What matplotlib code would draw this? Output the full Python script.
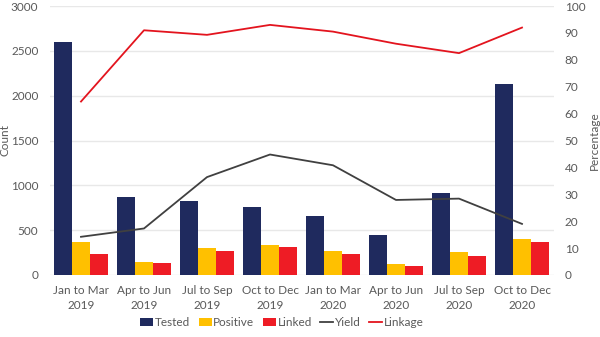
import matplotlib
matplotlib.use("Agg")
import matplotlib.pyplot as plt
import numpy as np

plt.rcParams["font.family"] = ["Lato", "DejaVu Sans"]

QUARTERS = [
    "Jan to Mar\n2019", "Apr to Jun\n2019", "Jul to Sep\n2019", "Oct to Dec\n2019",
    "Jan to Mar\n2020", "Apr to Jun\n2020", "Jul to Sep\n2020", "Oct to Dec\n2020",
]
TESTED = [2600, 870, 830, 755, 660, 450, 915, 2135]
POSITIVE = [370, 146, 298, 332, 265, 119, 258, 404]
LINKED = [235, 130, 269, 309, 239, 101, 208, 370]
YIELD = [14.2, 17.3, 36.4, 44.8, 40.8, 27.9, 28.4, 19.0]
LINKAGE = [64.5, 91.0, 89.3, 93.0, 90.5, 86.0, 82.5, 92.0]

TEXT_COLOR = "#595959"
GRID_COLOR = "#E8E8E8"
FS = 8.5

fig = plt.figure(figsize=(6, 3.37), dpi=100)
ax = fig.add_axes([0.0825, 0.184, 0.84, 0.798])
ax2 = ax.twinx()

x = np.arange(len(QUARTERS))
w = 0.286
ax.bar(x - w, TESTED, w, color="#1F2A5E", label="Tested", zorder=2)
ax.bar(x, POSITIVE, w, color="#FFC000", label="Positive", zorder=2)
ax.bar(x + w, LINKED, w, color="#EE1C25", label="Linked", zorder=2)

ax2.plot(x, YIELD, color="#404040", linewidth=1.3, label="Yield")
ax2.plot(x, LINKAGE, color="#E3141E", linewidth=1.3, label="Linkage")

ax.set_xlim(-0.5, len(QUARTERS) - 0.5)
ax.set_ylim(0, 3000)
ax.set_yticks(np.arange(0, 3001, 500))
ax2.set_ylim(0, 100)
ax2.set_yticks(np.arange(0, 101, 10))

ax.set_xticks(x)
ax.set_xticklabels(QUARTERS, linespacing=1.5)
ax.grid(axis="y", color=GRID_COLOR, linewidth=1, zorder=0)
ax.set_axisbelow(True)

for a in (ax, ax2):
    for spine in a.spines.values():
        spine.set_visible(False)
    a.tick_params(length=0, colors=TEXT_COLOR, labelsize=FS)
ax.tick_params(axis="x", pad=7)
ax.tick_params(axis="y", pad=8)
ax2.tick_params(axis="y", pad=8)

ax.set_ylabel("Count", color=TEXT_COLOR, fontsize=FS)
ax.yaxis.set_label_coords(-0.078, 0.5)
ax2.set_ylabel("Percentage", color=TEXT_COLOR, fontsize=FS)
ax2.yaxis.set_label_coords(1.07, 0.5)

h1, l1 = ax.get_legend_handles_labels()
h2, l2 = ax2.get_legend_handles_labels()
leg = fig.legend(h1 + h2, l1 + l2, loc="lower center", bbox_to_anchor=(0.47, -0.005),
                 ncol=5, frameon=False, fontsize=FS, handlelength=1.1,
                 handletextpad=0.15, columnspacing=0.7)
for t in leg.get_texts():
    t.set_color(TEXT_COLOR)

fig.savefig("out.png", dpi=100)
